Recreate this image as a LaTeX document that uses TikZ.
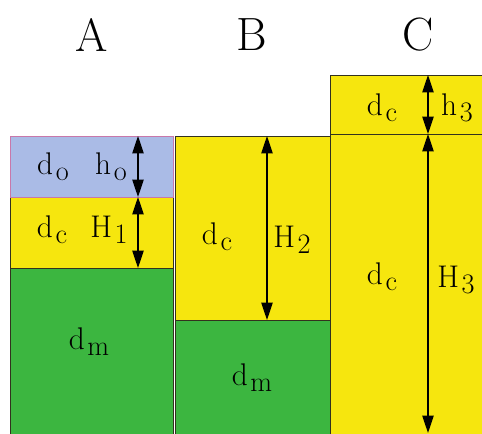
\documentclass[tikz,border=0pt]{standalone}
\usetikzlibrary{arrows.meta}
\definecolor{oilblue}{RGB}{170,187,230}
\definecolor{cyellow}{RGB}{246,230,14}
\definecolor{mgreen}{RGB}{60,182,64}
\definecolor{edgegray}{RGB}{50,50,30}
\definecolor{edgepink}{RGB}{200,120,170}
\newcommand{\lsub}[2]{#1\kern2pt\raisebox{-0.45ex}{\scalebox{0.9}{#2}}}

\begin{document}
\begin{tikzpicture}[x=0.75pt,y=-0.75pt,
  layer/.style={draw=edgegray, line width=0.7pt},
  dim/.style={{Triangle[length=13pt,width=8.5pt]}-{Triangle[length=13pt,width=8.5pt]}, line width=0.9pt},
  lbl/.style={font=\fontsize{23.5}{26}\selectfont, inner sep=0pt},
  head/.style={font=\fontsize{35}{38}\selectfont, inner sep=0pt}
]
\useasboundingbox (0,0) rectangle (482,434);

% Column A
\path[layer, fill=mgreen]  (10,268) rectangle (173,440);
\path[layer, fill=cyellow] (10,197) rectangle (173,268);
\path[layer, fill=oilblue, draw=edgepink] (10,136) rectangle (173,197);

% Column B
\path[layer, fill=mgreen]  (175,320) rectangle (330,440);
\path[layer, fill=cyellow] (175,136) rectangle (330,320);

% Column C
\path[layer, fill=cyellow] (330,134) rectangle (484,440);
\path[layer, fill=cyellow] (330,75) rectangle (484,134);

% headings
\node[head] (headA) at (92,35) {A};
\node[head] (headB) at (252,35) {B};
\node[head] (headC) at (418,35) {C};

% dimension points
\coordinate (hoT) at (138,136);
\coordinate (hoB) at (138,197);
\coordinate (H1B) at (138,268);
\coordinate (H2T) at (267,136);
\coordinate (H2B) at (267,320);
\coordinate (h3T) at (428,75);
\coordinate (h3B) at (428,134);
\coordinate (H3B) at (428,433);

\draw[dim] (hoT) -- (hoB);
\draw[dim] (hoB) -- (H1B);
\draw[dim] (H2T) -- (H2B);
\draw[dim] (h3T) -- (h3B);
\draw[dim] (h3B) -- (H3B);

% labels
\node[lbl] (doA) at (53,167) {\lsub{d}{o}};
\node[lbl] (hoA) at (111,167) {\lsub{h}{o}};
\node[lbl] (dcA) at (52,230) {\lsub{d}{c}};
\node[lbl] (H1lbl) at (109,230) {\lsub{H}{1}};
\node[lbl] (dmA) at (89,342) {\lsub{d}{m}};

\node[lbl] (dcB) at (217,237) {\lsub{d}{c}};
\node[lbl] (H2lbl) at (292,240) {\lsub{H}{2}};
\node[lbl] (dmB) at (252,378) {\lsub{d}{m}};

\node[lbl] (dcC1) at (382,108) {\lsub{d}{c}};
\node[lbl] (h3lbl) at (457,108) {\lsub{h}{3}};
\node[lbl] (dcC2) at (382,277) {\lsub{d}{c}};
\node[lbl] (H3lbl) at (456,280) {\lsub{H}{3}};

\end{tikzpicture}
\end{document}
